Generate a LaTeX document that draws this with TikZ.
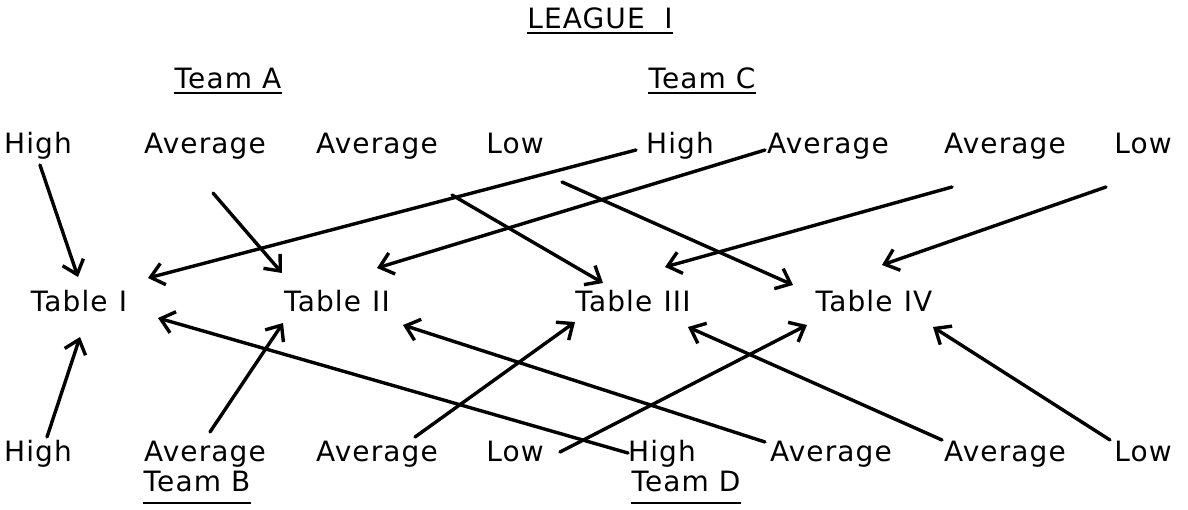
\documentclass[tikz,border=0pt]{standalone}
\usepackage{fontspec}
\setmainfont{DejaVu Sans}[LetterSpace=4]
\usetikzlibrary{arrows.meta}

\begin{document}
\begin{tikzpicture}[
    x=0.5pt, y=-0.5pt,
    lbl/.style={anchor=base, inner sep=0pt, font=\fontsize{14}{16}\selectfont},
    uline/.style={line width=1.1pt},
    arr/.style={line width=1.7pt, line cap=round,
                -{Straight Barb[length=6.5pt,width=11pt,line width=1.7pt]}}
  ]
  \useasboundingbox (0,0) rectangle (1188,509);

  % headings
  \node[lbl] (league) at (600,28) {LEAGUE\hspace{0.7em}I};
  \node[lbl] (teamA) at (228,88) {Team A};
  \node[lbl] (teamC) at (702,88) {Team C};
  \node[lbl] (teamB) at (197,491) {Team B};
  \node[lbl] (teamD) at (686,491) {Team D};

  \draw[uline] ([shift={(0,5)}]league.base west) -- ([shift={(0,5)}]league.base east);
  \draw[uline] ([shift={(0,5)}]teamA.base west) -- ([shift={(0,5)}]teamA.base east);
  \draw[uline] ([shift={(0,5)}]teamC.base west) -- ([shift={(0,5)}]teamC.base east);
  \draw[uline] ([shift={(0,12)}]teamB.base west) -- ([shift={(0,12)}]teamB.base east);
  \draw[uline] ([shift={(0,12)}]teamD.base west) -- ([shift={(0,12)}]teamD.base east);

  % upper players (teams A and C)
  \node[lbl] (a1) at (38,153)   {High};
  \node[lbl] (a2) at (205,153)  {Average};
  \node[lbl] (a3) at (377,153)  {Average};
  \node[lbl] (a4) at (515,153)  {Low};
  \node[lbl] (c1) at (680,153)  {High};
  \node[lbl] (c2) at (828,153)  {Average};
  \node[lbl] (c3) at (1005,153) {Average};
  \node[lbl] (c4) at (1143,153) {Low};

  % tables
  \node[lbl] (t1) at (79,311)  {Table\hspace{0.4em}I};
  \node[lbl] (t2) at (337,311) {Table\hspace{0.4em}II};
  \node[lbl] (t3) at (633,311) {Table\hspace{0.4em}III};
  \node[lbl] (t4) at (874,311) {Table\hspace{0.4em}IV};

  % lower players (teams B and D)
  \node[lbl] (b1) at (38,461)   {High};
  \node[lbl] (b2) at (205,461)  {Average};
  \node[lbl] (b3) at (377,461)  {Average};
  \node[lbl] (b4) at (515,461)  {Low};
  \node[lbl] (d1) at (662,461)  {High};
  \node[lbl] (d2) at (831,461)  {Average};
  \node[lbl] (d3) at (1005,461) {Average};
  \node[lbl] (d4) at (1143,461) {Low};

  % assignments from above
  \draw[arr] ([shift={(2,12)}]a1.base)   -- ([shift={(-1,-34)}]t1.base);
  \draw[arr] ([shift={(8,40)}]a2.base)   -- ([shift={(-55,-38)}]t2.base);
  \draw[arr] ([shift={(-44,-3)}]c1.base) -- ([shift={(69,-33)}]t1.base);
  \draw[arr] ([shift={(-63,-3)}]c2.base) -- ([shift={(40,-43)}]t2.base);
  \draw[arr] ([shift={(75,42)}]a3.base)  -- ([shift={(-30,-28)}]t3.base);
  \draw[arr] ([shift={(47,29)}]a4.base)  -- ([shift={(-81,-26)}]t4.base);
  \draw[arr] ([shift={(-53,34)}]c3.base) -- ([shift={(32,-44)}]t3.base);
  \draw[arr] ([shift={(-37,34)}]c4.base) -- ([shift={(8,-46)}]t4.base);

  % assignments from below
  \draw[arr] ([shift={(9,-24)}]b1.base)   -- ([shift={(1,26)}]t1.base);
  \draw[arr] ([shift={(5,-29)}]b2.base)   -- ([shift={(-54,12)}]t2.base);
  \draw[arr] ([shift={(38,-24)}]b3.base)  -- ([shift={(-58,11)}]t3.base);
  \draw[arr] ([shift={(45,-9)}]b4.base)   -- ([shift={(-67,14)}]t4.base);
  \draw[arr] ([shift={(-34,-8)}]d1.base)  -- ([shift={(79,7)}]t1.base);
  \draw[arr] ([shift={(-66,-19)}]d2.base) -- ([shift={(66,14)}]t2.base);
  \draw[arr] ([shift={(-63,-21)}]d3.base) -- ([shift={(55,16)}]t3.base);
  \draw[arr] ([shift={(-33,-21)}]d4.base) -- ([shift={(59,16)}]t4.base);
\end{tikzpicture}
\end{document}
